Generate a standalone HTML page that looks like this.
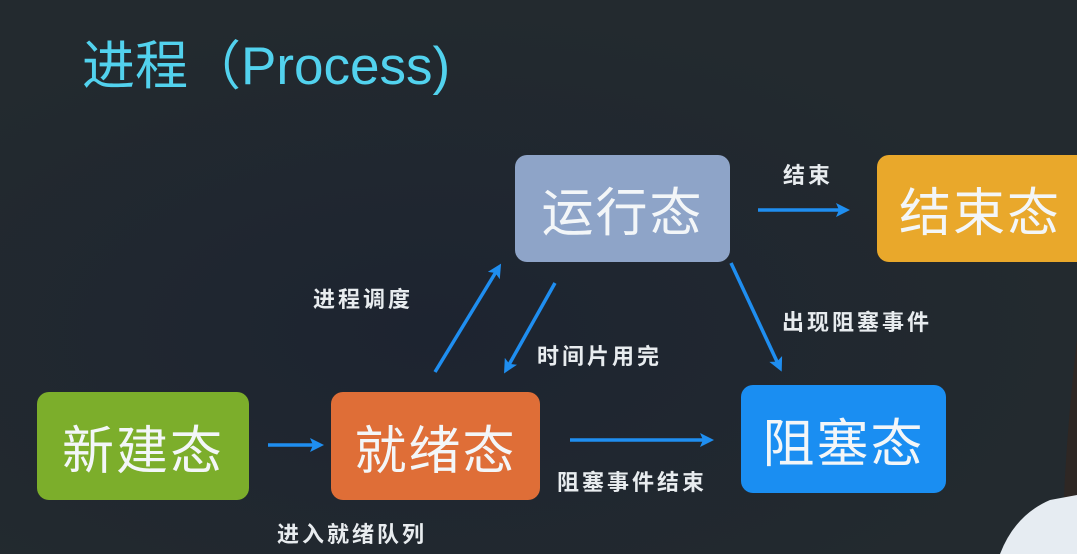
<!DOCTYPE html>
<html><head><meta charset="utf-8"><style>
body{margin:0;width:1077px;height:554px;overflow:hidden;background:#20262d;font-family:"Liberation Sans","Noto Sans CJK SC",sans-serif;}
.t{position:absolute;left:82px;top:24px;font-size:53px;color:#52d2ee;white-space:nowrap;}
.b{position:absolute;border-radius:12px;color:#f3f6f8;font-size:52px;display:flex;align-items:center;justify-content:center;letter-spacing:2px;}
.l{position:absolute;color:#e8ecef;font-size:22px;font-weight:bold;white-space:nowrap;letter-spacing:3px;}
</style></head><body>
<div style="position:absolute;left:0;top:0;width:1077px;height:554px;background:radial-gradient(ellipse at 40% 60%,#1d2430,#232a2f 70%)"></div>
<div class="t">进程（Process)</div>
<div class="b" style="left:515px;top:155px;width:215px;height:107px;background:#8ea4c8">运行态</div>
<div class="b" style="left:877px;top:155px;width:215px;height:107px;background:#e9a82b;justify-content:flex-start;padding-left:22px;box-sizing:border-box">结束态</div>
<div class="b" style="left:37px;top:392px;width:212px;height:108px;background:#7cae2b">新建态</div>
<div class="b" style="left:331px;top:392px;width:209px;height:108px;background:#df6e37">就绪态</div>
<div class="b" style="left:741px;top:385px;width:205px;height:108px;background:#1a8ef2">阻塞态</div>
<svg width="1077" height="554" style="position:absolute;left:0;top:0">
<defs><marker id="a" markerWidth="14" markerHeight="14" refX="10" refY="7" orient="auto" markerUnits="userSpaceOnUse"><path d="M0,0 L14,7 L0,14 L3,7 Z" fill="#1f8ef0"/></marker></defs>
<g stroke="#1f8ef0" stroke-width="3.5" fill="none">
<line x1="758" y1="210" x2="846" y2="210" marker-end="url(#a)"/>
<line x1="268" y1="445" x2="320" y2="445" marker-end="url(#a)"/>
<line x1="435" y1="372" x2="499" y2="267" marker-end="url(#a)"/>
<line x1="555" y1="283" x2="506" y2="370" marker-end="url(#a)"/>
<line x1="731" y1="263" x2="780" y2="368" marker-end="url(#a)"/>
<line x1="570" y1="440" x2="710" y2="440" marker-end="url(#a)"/>
</g>
<path d="M1062,554 Q1064,450 1077,340 L1077,554 Z" fill="#2e2724"/>
<path d="M1000,554 Q1015,515 1050,500 L1077,495 L1077,554 Z" fill="#e6ecf2"/>
</svg>
<div class="l" style="left:783px;top:158px">结束</div>
<div class="l" style="left:313px;top:282px">进程调度</div>
<div class="l" style="left:537px;top:339px">时间片用完</div>
<div class="l" style="left:782px;top:305px">出现阻塞事件</div>
<div class="l" style="left:557px;top:465px">阻塞事件结束</div>
<div class="l" style="left:277px;top:517px">进入就绪队列</div>
</body></html>
